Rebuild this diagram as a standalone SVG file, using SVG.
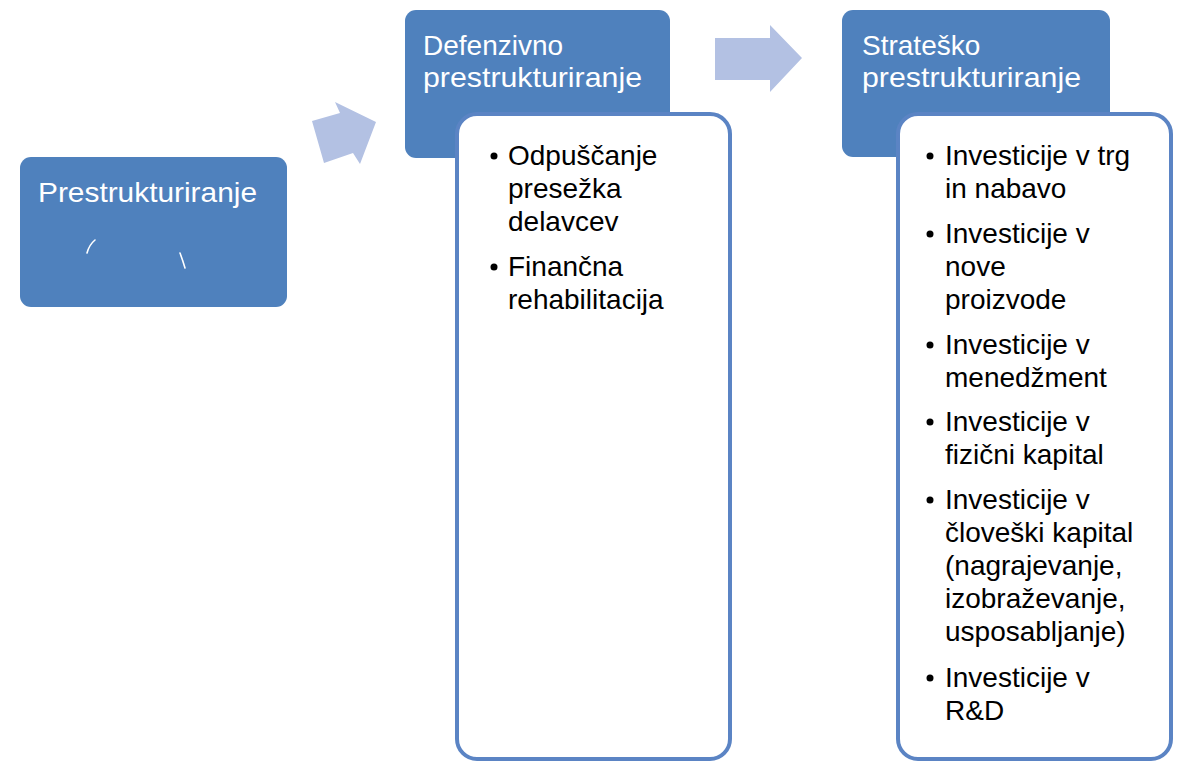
<svg xmlns="http://www.w3.org/2000/svg" width="1178" height="762" viewBox="0 0 1178 762">
<style>
.hdr{fill:#4f81bd}
.card{fill:#ffffff;stroke:#5b84c4;stroke-width:4}
.arrow{fill:#b3c1e3}
.tw{font-family:"Liberation Sans",Arial,sans-serif;font-size:28px;fill:#ffffff}
.tb{font-family:"Liberation Sans",Arial,sans-serif;font-size:28px;fill:#000000}
.tick{stroke:#ffffff;stroke-width:1.6;fill:none;stroke-linecap:round}
</style>
<rect width="1178" height="762" fill="#ffffff"/>
<g id="connectors">
<polygon class="arrow" points="312,121 324,163 353,153 360,164 376,122 335,102 340,113"/>
<polygon class="arrow" points="715,38 770,38 770,25 802,58 770,92 770,80 715,80"/>
</g>
<g id="node-prestrukturiranje">
<rect class="hdr" x="20" y="157" width="267" height="150" rx="11"/>
<text class="tw" x="38" y="202" textLength="219" lengthAdjust="spacingAndGlyphs">Prestrukturiranje</text>
<path class="tick" d="M87,253 Q89,245 95,240"/>
<path class="tick" d="M180,253 Q183,261 185,268"/>
</g>
<g id="node-defenzivno">
<rect class="hdr" x="405" y="10" width="265" height="148" rx="11"/>
<text class="tw" x="423" y="55">Defenzivno</text>
<text class="tw" x="423" y="87" textLength="219" lengthAdjust="spacingAndGlyphs">prestrukturiranje</text>
<rect class="card" x="457" y="114" width="273" height="645" rx="20"/>
<g class="tb">
<circle cx="494" cy="156" r="3.5" fill="#000"/>
<text x="508" y="165">Odpuščanje</text>
<text x="508" y="198">presežka</text>
<text x="508" y="231">delavcev</text>
<circle cx="494" cy="267" r="3.5" fill="#000"/>
<text x="508" y="276">Finančna</text>
<text x="508" y="309">rehabilitacija</text>
</g>
</g>
<g id="node-stratesko">
<rect class="hdr" x="842" y="10" width="268" height="147" rx="11"/>
<text class="tw" x="862" y="55">Strateško</text>
<text class="tw" x="862" y="87" textLength="219" lengthAdjust="spacingAndGlyphs">prestrukturiranje</text>
<rect class="card" x="898" y="114" width="273" height="645" rx="20"/>
<g class="tb">
<circle cx="930" cy="156" r="3.5" fill="#000"/>
<text x="945" y="165">Investicije v trg</text>
<text x="945" y="198">in nabavo</text>
<circle cx="930" cy="234" r="3.5" fill="#000"/>
<text x="945" y="243">Investicije v</text>
<text x="945" y="276">nove</text>
<text x="945" y="309">proizvode</text>
<circle cx="930" cy="345" r="3.5" fill="#000"/>
<text x="945" y="354">Investicije v</text>
<text x="945" y="387">menedžment</text>
<circle cx="930" cy="422" r="3.5" fill="#000"/>
<text x="945" y="431">Investicije v</text>
<text x="945" y="464">fizični kapital</text>
<circle cx="930" cy="500" r="3.5" fill="#000"/>
<text x="945" y="509">Investicije v</text>
<text x="945" y="542">človeški kapital</text>
<text x="945" y="575">(nagrajevanje,</text>
<text x="945" y="608">izobraževanje,</text>
<text x="945" y="641">usposabljanje)</text>
<circle cx="930" cy="678" r="3.5" fill="#000"/>
<text x="945" y="687">Investicije v</text>
<text x="945" y="720">R&amp;D</text>
</g>
</g>
</svg>
